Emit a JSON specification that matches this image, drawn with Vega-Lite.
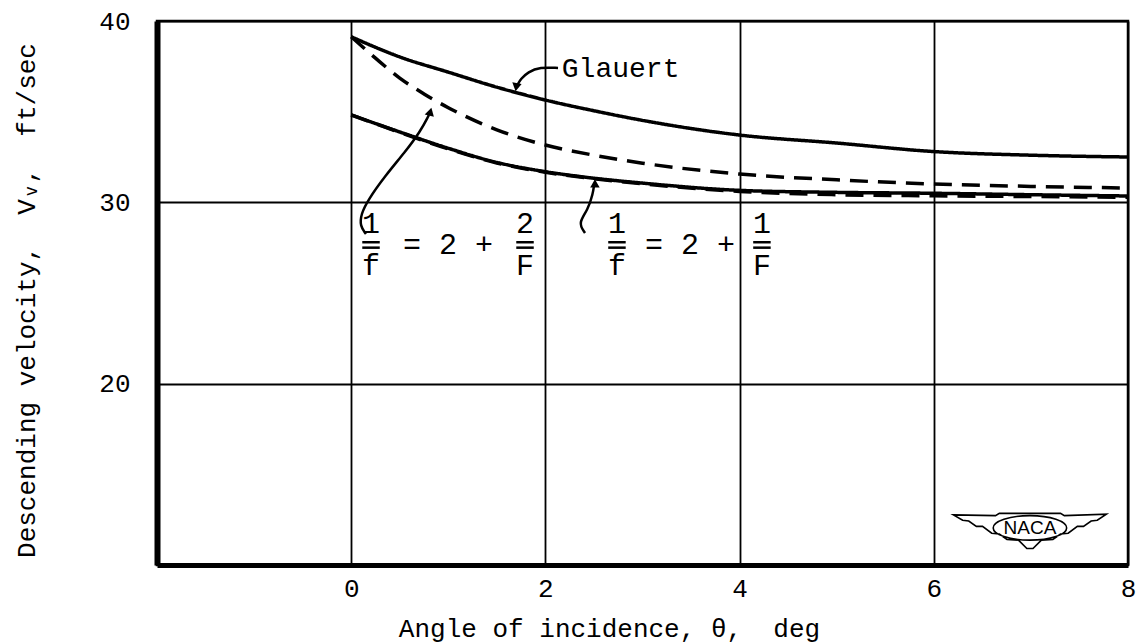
{
  "$schema": "https://vega.github.io/schema/vega-lite/v6.json",
  "width": 971,
  "height": 544,
  "autosize": {"type": "none"},
  "padding": {"left": 157, "top": 21, "right": 14, "bottom": 78},
  "background": "white",
  "config": {
    "view": {"stroke": "black", "strokeWidth": 2.5},
    "axis": {
      "grid": true,
      "gridColor": "black",
      "gridWidth": 1.8,
      "gridOpacity": 1,
      "ticks": false,
      "domainColor": "black",
      "labelFont": "Liberation Mono",
      "labelFontSize": 26,
      "labelColor": "black",
      "labelFlush": false,
      "labelOverlap": false,
      "titleFont": "Liberation Mono",
      "titleFontSize": 26,
      "titleFontWeight": "normal",
      "titleColor": "black"
    }
  },
  "datasets": {
    "curves": [
      {"series": "Glauert", "x": 0, "v": 39.13},
      {"series": "Glauert", "x": 0.25, "v": 38.55},
      {"series": "Glauert", "x": 0.5, "v": 38.02},
      {"series": "Glauert", "x": 1, "v": 37.18},
      {"series": "Glauert", "x": 1.5, "v": 36.35},
      {"series": "Glauert", "x": 2, "v": 35.64},
      {"series": "Glauert", "x": 2.5, "v": 35.05},
      {"series": "Glauert", "x": 3, "v": 34.52},
      {"series": "Glauert", "x": 4, "v": 33.71},
      {"series": "Glauert", "x": 5, "v": 33.27},
      {"series": "Glauert", "x": 6, "v": 32.8},
      {"series": "Glauert", "x": 7, "v": 32.6},
      {"series": "Glauert", "x": 8, "v": 32.5},
      {"series": "2+2/F", "x": 0, "v": 39.13},
      {"series": "2+2/F", "x": 0.25, "v": 37.95},
      {"series": "2+2/F", "x": 0.5, "v": 36.85},
      {"series": "2+2/F", "x": 0.75, "v": 35.98},
      {"series": "2+2/F", "x": 1, "v": 35.22},
      {"series": "2+2/F", "x": 1.5, "v": 34.0},
      {"series": "2+2/F", "x": 2, "v": 33.16},
      {"series": "2+2/F", "x": 2.5, "v": 32.6},
      {"series": "2+2/F", "x": 3, "v": 32.16},
      {"series": "2+2/F", "x": 4, "v": 31.56},
      {"series": "2+2/F", "x": 5, "v": 31.24},
      {"series": "2+2/F", "x": 6, "v": 31.01},
      {"series": "2+2/F", "x": 7, "v": 30.88},
      {"series": "2+2/F", "x": 8, "v": 30.79},
      {"series": "2+1/F", "x": 0, "v": 34.82},
      {"series": "2+1/F", "x": 0.5, "v": 33.88},
      {"series": "2+1/F", "x": 1, "v": 32.98},
      {"series": "2+1/F", "x": 1.5, "v": 32.2},
      {"series": "2+1/F", "x": 2, "v": 31.69},
      {"series": "2+1/F", "x": 2.5, "v": 31.33},
      {"series": "2+1/F", "x": 3, "v": 31.06},
      {"series": "2+1/F", "x": 4, "v": 30.66},
      {"series": "2+1/F", "x": 5, "v": 30.55},
      {"series": "2+1/F", "x": 6, "v": 30.5},
      {"series": "2+1/F", "x": 7, "v": 30.42},
      {"series": "2+1/F", "x": 8, "v": 30.35},
      {"series": "2+1/F dashed", "x": 0, "v": 34.82},
      {"series": "2+1/F dashed", "x": 0.5, "v": 33.86},
      {"series": "2+1/F dashed", "x": 1, "v": 32.95},
      {"series": "2+1/F dashed", "x": 1.5, "v": 32.17},
      {"series": "2+1/F dashed", "x": 2, "v": 31.66},
      {"series": "2+1/F dashed", "x": 2.5, "v": 31.3},
      {"series": "2+1/F dashed", "x": 3, "v": 31.02},
      {"series": "2+1/F dashed", "x": 4, "v": 30.6},
      {"series": "2+1/F dashed", "x": 5, "v": 30.42},
      {"series": "2+1/F dashed", "x": 6, "v": 30.36},
      {"series": "2+1/F dashed", "x": 7, "v": 30.32},
      {"series": "2+1/F dashed", "x": 8, "v": 30.28}
    ],
    "leaders": [
      {"id": "g", "o": 1, "x": 2.13, "v": 37.41},
      {"id": "g", "o": 2, "x": 1.944, "v": 37.46},
      {"id": "g", "o": 3, "x": 1.821, "v": 37.19},
      {"id": "g", "o": 4, "x": 1.745, "v": 36.8},
      {"id": "g", "o": 5, "x": 1.715, "v": 36.5},
      {"id": "a", "o": 1, "x": 0.152, "v": 28.25},
      {"id": "a", "o": 2, "x": 0.091, "v": 28.69},
      {"id": "a", "o": 3, "x": 0.101, "v": 29.35},
      {"id": "a", "o": 4, "x": 0.173, "v": 30.13},
      {"id": "a", "o": 5, "x": 0.348, "v": 31.45},
      {"id": "a", "o": 6, "x": 0.554, "v": 32.77},
      {"id": "a", "o": 7, "x": 0.709, "v": 33.88},
      {"id": "a", "o": 8, "x": 0.801, "v": 34.82},
      {"id": "b", "o": 1, "x": 2.408, "v": 28.31},
      {"id": "b", "o": 2, "x": 2.336, "v": 28.86},
      {"id": "b", "o": 3, "x": 2.439, "v": 29.58},
      {"id": "b", "o": 4, "x": 2.49, "v": 30.51},
      {"id": "b", "o": 5, "x": 2.5, "v": 30.9}
    ],
    "arrows": [
      {"x": 1.70, "v": 36.35, "dir": "down", "rot": 10},
      {"x": 0.815, "v": 35.0, "dir": "up", "rot": 15},
      {"x": 2.51, "v": 31.05, "dir": "up", "rot": 0}
    ],
    "labels": [
      {"x": 0.204, "v": 28.8, "t": "1"},
      {"x": 0.204, "v": 26.5, "t": "f"},
      {"x": 0.997, "v": 27.645, "t": "= 2 +"},
      {"x": 1.79, "v": 28.8, "t": "2"},
      {"x": 1.79, "v": 26.5, "t": "F"},
      {"x": 2.737, "v": 28.8, "t": "1"},
      {"x": 2.737, "v": 26.5, "t": "f"},
      {"x": 3.489, "v": 27.645, "t": "= 2 +"},
      {"x": 4.23, "v": 28.8, "t": "1"},
      {"x": 4.23, "v": 26.5, "t": "F"}
    ],
    "bars": [
      {"x": 0.114, "x2": 0.294, "v": 27.8},
      {"x": 0.114, "x2": 0.294, "v": 27.5},
      {"x": 1.70, "x2": 1.88, "v": 27.8},
      {"x": 1.70, "x2": 1.88, "v": 27.5},
      {"x": 2.647, "x2": 2.827, "v": 27.8},
      {"x": 2.647, "x2": 2.827, "v": 27.5},
      {"x": 4.14, "x2": 4.32, "v": 27.8},
      {"x": 4.14, "x2": 4.32, "v": 27.5}
    ]
  },
  "encoding": {
    "x": {
      "field": "x",
      "type": "quantitative",
      "scale": {"domain": [-2, 8], "nice": false, "zero": false},
      "axis": {
        "values": [0, 2, 4, 6, 8],
        "domainWidth": 5,
        "labelPadding": 10,
        "title": "Angle of incidence, θ,\u00a0\u00a0deg",
        "titleX": 452,
        "titleY": 71,
        "titleBaseline": "alphabetic",
        "titleAlign": "center"
      }
    },
    "y": {
      "field": "v",
      "type": "quantitative",
      "scale": {"domain": [10, 40], "nice": false, "zero": false},
      "axis": {
        "values": [20, 30, 40],
        "domainWidth": 6,
        "labelPadding": 27,
        "labelBaseline": "middle",
        "title": "Descending velocity,\u00a0\u00a0Vᵥ,\u00a0\u00a0ft/sec",
        "titleX": -123,
        "titleY": 279,
        "titleAngle": 270,
        "titleBaseline": "alphabetic",
        "titleAlign": "center"
      }
    }
  },
  "layer": [
    {
      "data": {"name": "curves"},
      "mark": {"type": "line", "interpolate": "monotone", "strokeWidth": 3.5, "color": "black"},
      "encoding": {
        "detail": {"field": "series", "type": "nominal"},
        "strokeDash": {
          "field": "series",
          "type": "nominal",
          "scale": {
            "domain": ["Glauert", "2+2/F", "2+1/F", "2+1/F dashed"],
            "range": [[1, 0], [18, 10], [1, 0], [18, 10]]
          },
          "legend": null
        }
      }
    },
    {
      "data": {"name": "leaders"},
      "mark": {"type": "line", "interpolate": "basis", "strokeWidth": 2.5, "color": "black"},
      "encoding": {
        "detail": {"field": "id", "type": "nominal"},
        "order": {"field": "o", "type": "quantitative"}
      }
    },
    {
      "data": {"name": "arrows"},
      "mark": {"type": "point", "filled": true, "color": "black", "opacity": 1, "size": 90},
      "encoding": {
        "shape": {
          "field": "dir",
          "type": "nominal",
          "scale": {"domain": ["up", "down"], "range": ["triangle-up", "triangle-down"]},
          "legend": null
        },
        "angle": {"field": "rot", "type": "quantitative", "scale": null}
      }
    },
    {
      "data": {"name": "bars"},
      "mark": {"type": "rule", "strokeWidth": 2.5, "color": "black"},
      "encoding": {
        "x2": {"field": "x2"}
      }
    },
    {
      "data": {"name": "labels"},
      "mark": {"type": "text", "font": "Liberation Mono", "fontSize": 30, "align": "center", "baseline": "middle", "color": "black"},
      "encoding": {"text": {"field": "t", "type": "nominal"}}
    },
    {
      "data": {"values": [{"x": 2.169, "v": 36.91, "t": "Glauert"}]},
      "mark": {"type": "text", "font": "Liberation Mono", "fontSize": 28, "align": "left", "baseline": "alphabetic", "color": "black"},
      "encoding": {"text": {"field": "t", "type": "nominal"}}
    },
    {
      "data": {"values": [{"x": 6.99, "v": 11.92}]},
      "mark": {
        "type": "point",
        "filled": false,
        "stroke": "black",
        "strokeWidth": 1.6,
        "opacity": 1,
        "size": 23409,
        "shape": "M-1,-0.2 L-0.45,-0.19 L-0.4,-0.22 L0.4,-0.22 L0.45,-0.19 L1,-0.21 L0.88,-0.13 L0.8,-0.12 L0.7,-0.05 L0.62,-0.05 L0.5,0.04 L0.4,0.05 L0.3,0.12 L0.15,0.13 L0.04,0.24 L-0.04,0.24 L-0.15,0.13 L-0.3,0.12 L-0.4,0.05 L-0.5,0.04 L-0.62,-0.05 L-0.7,-0.05 L-0.8,-0.12 L-0.88,-0.13 Z M-0.48,-0.03 A0.48,0.16 0 1,0 0.48,-0.03 A0.48,0.16 0 1,0 -0.48,-0.03 Z"
      }
    },
    {
      "data": {"values": [{"x": 6.99, "v": 12.05, "t": "NACA"}]},
      "mark": {"type": "text", "font": "Liberation Sans", "fontSize": 19, "align": "center", "baseline": "middle", "color": "black"},
      "encoding": {"text": {"field": "t", "type": "nominal"}}
    }
  ]
}
